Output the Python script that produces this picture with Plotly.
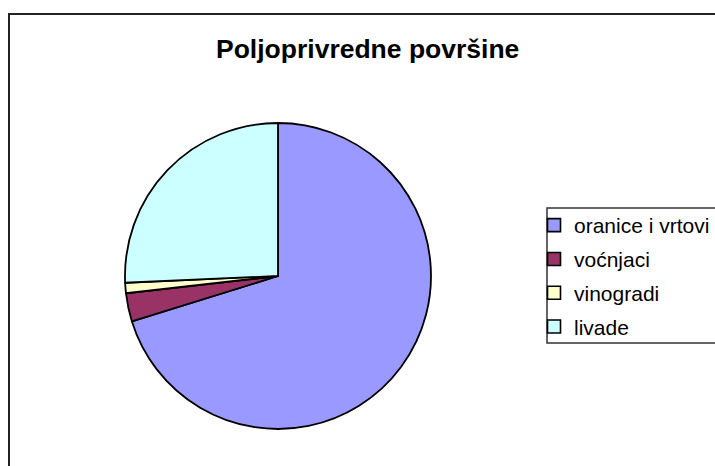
import plotly.graph_objects as go

labels = ["oranice i vrtovi", "voćnjaci", "vinogradi", "livade"]
values = [70.2, 3.0, 1.1, 25.7]
colors = ["#9999FF", "#993366", "#FFFFCC", "#CCFFFF"]
title_text = "Poljoprivredne površine"

W, H = 715, 466
cx, cy, r = 278, 276, 153


def px(x):
    return x / W


def py(y):
    return 1 - y / H


fig = go.Figure()
fig.add_trace(go.Pie(
    labels=labels, values=values, sort=False, direction="clockwise", rotation=0,
    marker=dict(colors=colors, line=dict(color="black", width=1.8)),
    textinfo="none", hoverinfo="label+percent", showlegend=False,
    domain=dict(x=[(cx - r) / W, (cx + r) / W], y=[(H - cy - r) / H, (H - cy + r) / H]),
))
for i, (lab, col) in enumerate(zip(labels, colors)):
    fig.add_trace(go.Scatter(
        x=[None], y=[None], mode="markers", name=lab, legendgroup=f"g{i}",
        marker=dict(symbol="square", size=13, color=col, line=dict(color="black", width=1.6)),
    ))

fig.update_layout(
    width=W, height=H, margin=dict(l=0, r=0, t=0, b=0, autoexpand=False),
    paper_bgcolor="white", plot_bgcolor="white",
    xaxis=dict(visible=False), yaxis=dict(visible=False),
    font=dict(family="Arial, Liberation Sans, sans-serif", color="black"),
    showlegend=True,
    legend=dict(
        x=px(534), xanchor="left", y=py(205), yanchor="top",
        font=dict(size=21, family="Arial, Liberation Sans, sans-serif", color="black"),
        tracegroupgap=3.5, bgcolor="rgba(0,0,0,0)", borderwidth=0,
    ),
    annotations=[dict(
        text="<b>" + title_text + "</b>", x=px(367.5), y=py(49), xref="paper", yref="paper",
        xanchor="center", yanchor="middle", showarrow=False,
        font=dict(size=26.5, family="Arial, Liberation Sans, sans-serif", color="black"),
    )],
    shapes=[
        dict(type="rect", xref="paper", yref="paper", x0=px(9), x1=1.1, y0=-0.1, y1=py(14),
             line=dict(color="#222222", width=2), layer="below"),
        dict(type="rect", xref="paper", yref="paper", x0=px(547), x1=1.1, y0=py(343), y1=py(208),
             line=dict(color="#333333", width=1.5), layer="below"),
    ],
)

fig.write_html(
    "out.html",
    config={"displayModeBar": False},
    post_script="document.body.style.margin='0';document.body.style.overflow='hidden';",
)
